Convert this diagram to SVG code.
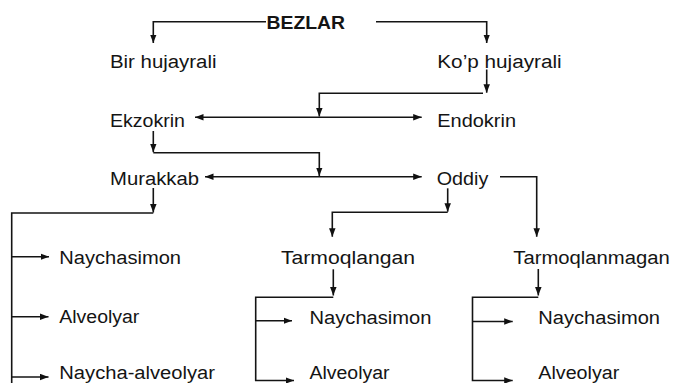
<svg xmlns="http://www.w3.org/2000/svg" width="674" height="383" viewBox="0 0 674 383">
  <defs>
    <marker id="arr" markerUnits="userSpaceOnUse" markerWidth="10" markerHeight="7" refX="8.5" refY="3.25" orient="auto-start-reverse">
      <path d="M0,0 L8.5,3.25 L0,6.5 z" fill="#111"/>
    </marker>
    <style>
      .t { font-family: "Liberation Sans", Arial, Helvetica, sans-serif; font-size: 18px; fill: #141414; }
      .b { font-weight: bold; font-size: 17.5px; }
      .c { fill: none; stroke: #141414; stroke-width: 1.6; }
      .a { marker-end: url(#arr); }
      .d { marker-start: url(#arr); marker-end: url(#arr); }
    </style>
  </defs>
  <rect width="674" height="383" fill="#ffffff"/>

  <g id="connectors">
    <path class="c a" d="M266,21.7 H153.3 V43"/>
    <path class="c a" d="M376,21.7 H486.7 V43"/>
    <path class="c a" d="M486.7,69.5 V92.7"/>
    <path class="c a" d="M483,93.2 H319.3 V116.5"/>
    <path class="c d" d="M195,117.3 H421.7"/>
    <path class="c a" d="M153.3,131 V152.2"/>
    <path class="c a" d="M153.3,152.7 H319.3 V176"/>
    <path class="c d" d="M205,176.7 H421.7"/>
    <path class="c a" d="M153.3,188 V212.5"/>
    <path class="c" d="M153.3,213 H11.7 V383"/>
    <path class="c a" d="M11.7,256.7 H49"/>
    <path class="c a" d="M11.7,316.7 H48.5"/>
    <path class="c a" d="M11.7,377 H48.5"/>
    <path class="c a" d="M447.7,188.3 V211.7"/>
    <path class="c a" d="M447.7,212.3 H332.3 V236.7"/>
    <path class="c a" d="M500,176.7 H536.7 V236.7"/>
    <path class="c a" d="M333.3,269.3 V295.5"/>
    <path class="c a" d="M333.3,297.3 H255.7 V380.5 H294"/>
    <path class="c a" d="M255.7,320.7 H292"/>
    <path class="c a" d="M538.3,269 V295.5"/>
    <path class="c a" d="M538.3,297.3 H472.5 V380.5 H512.7"/>
    <path class="c a" d="M472.5,321.5 H512.7"/>
  </g>

  <g id="bezlar"><text class="t b" x="266.5" y="29" textLength="78.5" lengthAdjust="spacingAndGlyphs">BEZLAR</text></g>
  <g id="bir-hujayrali"><text class="t" x="110" y="68.3" textLength="106.5" lengthAdjust="spacingAndGlyphs">Bir hujayrali</text></g>
  <g id="kop-hujayrali"><text class="t" x="437.3" y="68.3" textLength="124.4" lengthAdjust="spacingAndGlyphs">Ko’p hujayrali</text></g>
  <g id="ekzokrin"><text class="t" x="110" y="127.3" textLength="75" lengthAdjust="spacingAndGlyphs">Ekzokrin</text></g>
  <g id="endokrin"><text class="t" x="437.3" y="127.3" textLength="78.7" lengthAdjust="spacingAndGlyphs">Endokrin</text></g>
  <g id="murakkab"><text class="t" x="110" y="185" textLength="89" lengthAdjust="spacingAndGlyphs">Murakkab</text></g>
  <g id="oddiy"><text class="t" x="436.7" y="185" textLength="51.6" lengthAdjust="spacingAndGlyphs">Oddiy</text></g>
  <g id="m-naychasimon"><text class="t" x="59.3" y="264" textLength="121.7" lengthAdjust="spacingAndGlyphs">Naychasimon</text></g>
  <g id="m-alveolyar"><text class="t" x="59.3" y="322.7" textLength="80" lengthAdjust="spacingAndGlyphs">Alveolyar</text></g>
  <g id="m-naycha-alveolyar"><text class="t" x="59.3" y="379.2" textLength="155.7" lengthAdjust="spacingAndGlyphs">Naycha-alveolyar</text></g>
  <g id="tarmoqlangan"><text class="t" x="281" y="264.3" textLength="134" lengthAdjust="spacingAndGlyphs">Tarmoqlangan</text></g>
  <g id="tarmoqlanmagan"><text class="t" x="513.3" y="263.8" textLength="156.5" lengthAdjust="spacingAndGlyphs">Tarmoqlanmagan</text></g>
  <g id="t-naychasimon"><text class="t" x="309.5" y="323.8" textLength="122" lengthAdjust="spacingAndGlyphs">Naychasimon</text></g>
  <g id="t-alveolyar"><text class="t" x="309.5" y="379.2" textLength="80" lengthAdjust="spacingAndGlyphs">Alveolyar</text></g>
  <g id="tn-naychasimon"><text class="t" x="538.3" y="324" textLength="121.7" lengthAdjust="spacingAndGlyphs">Naychasimon</text></g>
  <g id="tn-alveolyar"><text class="t" x="538.3" y="379.2" textLength="81" lengthAdjust="spacingAndGlyphs">Alveolyar</text></g>
</svg>
